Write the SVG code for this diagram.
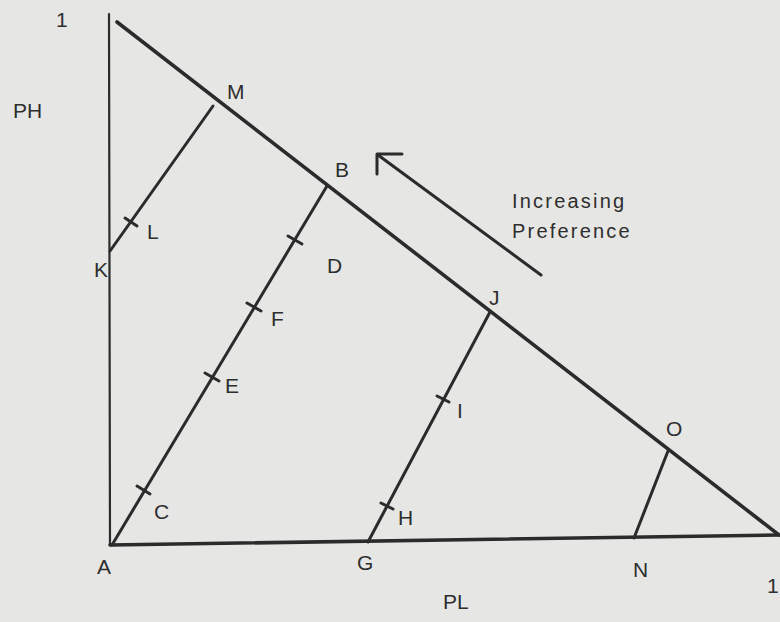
<svg xmlns="http://www.w3.org/2000/svg" width="780" height="622" viewBox="0 0 780 622">
<style>
.ln{stroke:#2b2b2b;fill:none;stroke-linecap:round;stroke-linejoin:round}
.ax{stroke-width:2.2}
.th{stroke-width:3.6}
.sg{stroke-width:3}
.tk{stroke:#2b2b2b;stroke-width:3;stroke-linecap:round}
text{font-family:"Liberation Sans",Arial,sans-serif;font-size:21px;fill:#2e2e2e}
.cap{font-size:20px;letter-spacing:2.2px}
</style>
<rect width="780" height="622" fill="#e6e6e4"/>
<g id="axes">
<line class="ln ax" x1="109" y1="14" x2="110" y2="545"/>
<line class="ln th" x1="110" y1="545" x2="779" y2="535"/>
<line class="ln th" x1="117" y1="22" x2="779" y2="535"/>
</g>
<g id="connectors">
<line class="ln sg" x1="110" y1="251" x2="213" y2="106"/>
<line class="ln sg" x1="112" y1="545" x2="327" y2="186"/>
<line class="ln sg" x1="368" y1="542" x2="490" y2="312"/>
<line class="ln sg" x1="634" y1="538" x2="668" y2="451"/>
<line class="ln sg" x1="541" y1="275" x2="378" y2="155"/>
<polyline class="ln sg" points="377,174 377,154 402,154"/>
</g>
<g id="ticks">
<line class="tk" x1="125" y1="218" x2="137" y2="226"/>
<line class="tk" x1="288" y1="236" x2="302" y2="244"/>
<line class="tk" x1="247" y1="303" x2="261" y2="311"/>
<line class="tk" x1="205" y1="373" x2="219" y2="381"/>
<line class="tk" x1="137" y1="486" x2="150" y2="494"/>
<line class="tk" x1="437" y1="396" x2="449" y2="402"/>
<line class="tk" x1="381" y1="503" x2="393" y2="509"/>
</g>
<g id="labels">
<text x="56" y="27">1</text>
<text x="13" y="118">PH</text>
<text x="227" y="99">M</text>
<text x="335" y="177">B</text>
<text class="cap" x="512" y="208">Increasing</text>
<text class="cap" x="512" y="238">Preference</text>
<text x="147" y="239">L</text>
<text x="94" y="277">K</text>
<text x="327" y="273">D</text>
<text x="489" y="305">J</text>
<text x="271" y="326">F</text>
<text x="225" y="393">E</text>
<text x="457" y="418">I</text>
<text x="666" y="436">O</text>
<text x="154" y="519">C</text>
<text x="398" y="525">H</text>
<text x="97" y="574">A</text>
<text x="357" y="570">G</text>
<text x="633" y="577">N</text>
<text x="767" y="593">1</text>
<text x="443" y="609">PL</text>
</g>
</svg>
